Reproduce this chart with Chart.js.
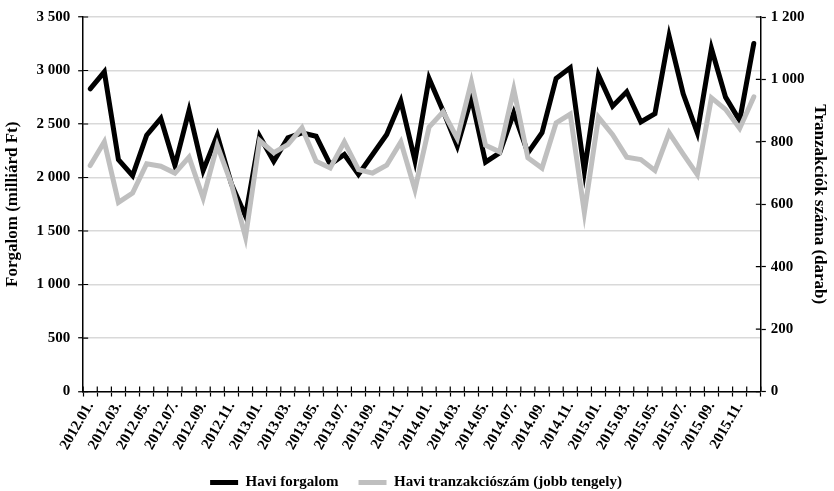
<!DOCTYPE html>
<html>
<head>
<meta charset="utf-8">
<script src="https://cdn.jsdelivr.net/npm/chart.js@4"></script>
<style>
  html, body { margin: 0; padding: 0; background: #fff; }
  #wrap { width: 834px; height: 491px; }
</style>
</head>
<body>
<div id="wrap"><canvas id="chart"></canvas></div>
<script>
// monthly labels 2012.01. - 2015.12.
const months = [
  '2012.01.', '2012.02.', '2012.03.', '2012.04.', '2012.05.', '2012.06.', '2012.07.', '2012.08.', '2012.09.', '2012.10.', '2012.11.', '2012.12.',
  '2013.01.', '2013.02.', '2013.03.', '2013.04.', '2013.05.', '2013.06.', '2013.07.', '2013.08.', '2013.09.', '2013.10.', '2013.11.', '2013.12.',
  '2014.01.', '2014.02.', '2014.03.', '2014.04.', '2014.05.', '2014.06.', '2014.07.', '2014.08.', '2014.09.', '2014.10.', '2014.11.', '2014.12.',
  '2015.01.', '2015.02.', '2015.03.', '2015.04.', '2015.05.', '2015.06.', '2015.07.', '2015.08.', '2015.09.', '2015.10.', '2015.11.', '2015.12.'
];

// Havi forgalom (milliárd Ft) - left axis
const turnover = [
  2829, 2988, 2168, 2018, 2396, 2552, 2112, 2627, 2065, 2396, 1940, 1640,
  2386, 2152, 2370, 2418, 2386, 2121, 2215, 2028, 2215, 2402, 2714, 2159,
  2926, 2620, 2293, 2745, 2143, 2230, 2604, 2230, 2418, 2926, 3025, 2059,
  2957, 2667, 2801, 2520, 2597, 3322, 2782, 2418, 3206, 2751, 2533, 3253
];

// Havi tranzakciószám (darab) - right axis
const transactions = [
  724, 800, 606, 636, 730, 722, 700, 751, 620, 789, 665, 495,
  804, 765, 791, 845, 738, 716, 800, 711, 700, 725, 800, 647,
  847, 896, 811, 992, 789, 768, 968, 749, 716, 861, 889, 574,
  879, 823, 751, 743, 708, 829, 761, 695, 941, 904, 843, 944
];

const leftTicks = [0, 500, 1000, 1500, 2000, 2500, 3000, 3500];
const rightTicks = [0, 200, 400, 600, 800, 1000, 1200];

const serif = '"Liberation Serif", "Times New Roman", serif';

function spaced(v) {
  return String(v).replace(/\B(?=(\d{3})+(?!\d))/g, ' ');
}

// tick marks that cross the axis lines (inner half)
const innerTicks = {
  id: 'innerTicks',
  afterDatasetsDraw(chart) {
    const ctx = chart.ctx;
    const area = chart.chartArea;
    const x = chart.scales.x;
    const yl = chart.scales.y;
    const yr = chart.scales.y1;
    ctx.save();
    ctx.strokeStyle = '#000';
    ctx.lineWidth = 1.2;
    ctx.beginPath();
    for (let i = 0; i <= months.length; i++) {
      const px = x.getPixelForValue(i - 0.5);
      ctx.moveTo(px, area.bottom);
      ctx.lineTo(px, area.bottom - 5);
    }
    leftTicks.forEach(function(v) {
      const py = yl.getPixelForValue(v);
      ctx.moveTo(area.left, py);
      ctx.lineTo(area.left + 5, py);
    });
    rightTicks.forEach(function(v) {
      const py = yr.getPixelForValue(v);
      ctx.moveTo(area.right, py);
      ctx.lineTo(area.right - 5, py);
    });
    ctx.stroke();
    ctx.restore();
  }
};

const ctx = document.getElementById('chart').getContext('2d');
const myChart = new Chart(ctx, {
  type: 'line',
  data: {
    labels: months,
    datasets: [{
      label: 'Havi forgalom',
      data: turnover,
      yAxisID: 'y',
      borderColor: '#000000',
      backgroundColor: '#000000',
      borderWidth: 5,
      borderCapStyle: 'round',
      pointRadius: 0,
      tension: 0,
      order: 1
    }, {
      label: 'Havi tranzakciószám (jobb tengely)',
      data: transactions,
      yAxisID: 'y1',
      borderColor: '#bfbfbf',
      backgroundColor: '#bfbfbf',
      borderWidth: 5,
      borderCapStyle: 'round',
      pointRadius: 0,
      tension: 0,
      order: 0
    }]
  },
  options: {
    responsive: true,
    maintainAspectRatio: false,
    animation: false,
    layout: {
      padding: { left: 2, right: 4, top: 7, bottom: -9 }
    },
    scales: {
      x: {
        offset: true,
        grid: {
          offset: true,
          drawOnChartArea: false,
          tickLength: 5,
          tickColor: '#000',
          tickWidth: 1.2
        },
        border: { color: '#000', width: 1.5 },
        ticks: {
          autoSkip: false,
          maxRotation: 60,
          minRotation: 60,
          padding: 2,
          color: '#000',
          font: { family: serif, size: 15, weight: 'bold' },
          callback: function(value, index) {
            return index % 2 === 0 ? months[index] : '';
          }
        }
      },
      y: {
        position: 'left',
        min: 0,
        max: 3500,
        grid: {
          color: '#d9d9d9',
          lineWidth: 1.5,
          tickLength: 5,
          tickColor: '#000',
          tickWidth: 1.2
        },
        border: { color: '#000', width: 1.5 },
        afterBuildTicks: function(scale) {
          scale.ticks = leftTicks.map(function(v) { return { value: v }; });
        },
        ticks: {
          padding: 8,
          color: '#000',
          font: { family: serif, size: 15, weight: 'bold' },
          callback: function(v) { return spaced(v); }
        },
        title: {
          display: true,
          text: 'Forgalom (milliárd Ft)',
          color: '#000',
          font: { family: serif, size: 17, weight: 'bold' },
          padding: { top: 0, bottom: 6 }
        }
      },
      y1: {
        position: 'right',
        min: 0,
        max: 1200,
        grid: {
          drawOnChartArea: false,
          tickLength: 5,
          tickColor: '#000',
          tickWidth: 1.2
        },
        border: { color: '#000', width: 1.5 },
        afterBuildTicks: function(scale) {
          scale.ticks = rightTicks.map(function(v) { return { value: v }; });
        },
        ticks: {
          padding: 5,
          color: '#000',
          font: { family: serif, size: 15, weight: 'bold' },
          callback: function(v) { return spaced(v); }
        },
        title: {
          display: true,
          text: 'Tranzakciók száma (darab)',
          color: '#000',
          font: { family: serif, size: 17, weight: 'bold' },
          padding: { top: 0, bottom: 0 }
        }
      }
    },
    plugins: {
      legend: {
        position: 'bottom',
        labels: {
          usePointStyle: true,
          pointStyle: 'line',
          pointStyleWidth: 28,
          padding: 20,
          color: '#000',
          font: { family: serif, size: 15, weight: 'bold' },
          sort: function(a, b) { return a.datasetIndex - b.datasetIndex; }
        }
      },
      tooltip: { enabled: false }
    }
  },
  plugins: [innerTicks]
});
</script>
</body>
</html>
